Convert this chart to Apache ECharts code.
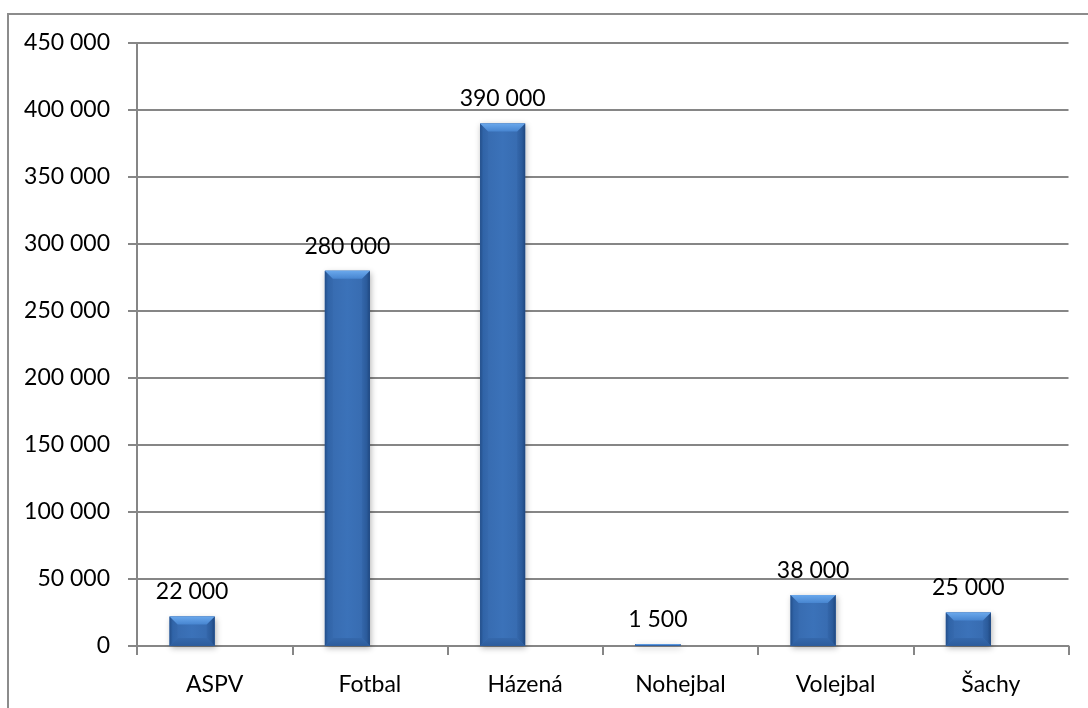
<!DOCTYPE html>
<html>
<head>
<meta charset="utf-8">
<script src="https://cdn.jsdelivr.net/npm/echarts@6/dist/echarts.min.js"></script>
<style>
html,body{margin:0;padding:0;background:#fff;overflow:hidden;}
#frame{position:absolute;left:7px;top:13px;width:1200px;height:800px;border-left:2px solid #8c8c8c;border-top:2px solid #8c8c8c;box-sizing:border-box;}
#chart{position:absolute;left:0;top:0;width:1088px;height:708px;}
</style>
</head>
<body>
<div id="frame"></div>
<div id="chart"></div>
<script>
const categories = ['ASPV', 'Fotbal', 'Házená', 'Nohejbal', 'Volejbal', 'Šachy'];
const values = [22000, 280000, 390000, 1500, 38000, 25000];
const yTicks = { min: 0, max: 450000, interval: 50000 };

function fmt(v) {
  return String(v).replace(/\B(?=(\d{3})+(?!\d))/g, ' ');
}

const BAR_W = 45;
const FONT = 'Lato';
const FS = 23;

const chart = echarts.init(document.getElementById('chart'));

function grad(x, y, x2, y2, stops) {
  return new echarts.graphic.LinearGradient(x, y, x2, y2, stops);
}

function bevel(params, api) {
  const cat = api.value(0);
  const v = api.value(1);
  const top = api.coord([cat, v]);
  const base = api.coord([cat, 0]);
  const x0 = top[0] - BAR_W, x1 = top[0];
  const yT = top[1], yB = base[1];
  const h = yB - yT;
  const d = Math.max(0, Math.min(8, h / 2));
  if (h < 1) return null;
  return {
    type: 'group',
    children: [
      { type: 'rect', shape: { x: x0, y: yT, width: BAR_W, height: h },
        style: { fill: grad(0, 0, 1, 0, [
          { offset: 0, color: '#3669ad' }, { offset: 0.5, color: '#3b72b9' }, { offset: 1, color: '#3669ad' }]) } },
      { type: 'polygon', shape: { points: [[x0, yT], [x0 + d, yT + d], [x0 + d, yB - d], [x0, yB]] },
        style: { fill: grad(0, 0, 1, 0, [
          { offset: 0, color: '#244f8a' }, { offset: 0.4, color: '#3064a8' }, { offset: 1, color: '#3669ad' }]) } },
      { type: 'polygon', shape: { points: [[x1, yT], [x1 - d, yT + d], [x1 - d, yB - d], [x1, yB]] },
        style: { fill: grad(0, 0, 1, 0, [
          { offset: 0, color: '#3467ab' }, { offset: 0.6, color: '#2b5b9b' }, { offset: 1, color: '#1f477f' }]) } },
      { type: 'polygon', shape: { points: [[x0, yB], [x0 + d, yB - d], [x1 - d, yB - d], [x1, yB]] },
        style: { fill: grad(0, 0, 0, 1, [
          { offset: 0, color: '#3568ac' }, { offset: 1, color: '#2d5c9c' }]) } },
      { type: 'polygon', shape: { points: [[x0, yT], [x1, yT], [x1 - d, yT + d], [x0 + d, yT + d]] },
        style: { fill: grad(0, 0, 0, 1, [
          { offset: 0, color: '#6aa8ec' }, { offset: 1, color: '#4785d0' }]) } }
    ]
  };
}

chart.setOption({
  animation: false,
  textStyle: { fontFamily: FONT, color: '#000' },
  grid: { left: 137, right: 19.5, top: 43, bottom: 62, containLabel: false },
  xAxis: {
    type: 'category',
    data: categories,
    axisLine: { lineStyle: { color: '#868686', width: 2 } },
    axisTick: { show: true, length: 9, lineStyle: { color: '#868686', width: 2 } },
    axisLabel: { color: '#000', fontSize: FS, margin: 27, fontFamily: FONT }
  },
  yAxis: {
    type: 'value',
    min: yTicks.min, max: yTicks.max, interval: yTicks.interval,
    axisLine: { show: true, lineStyle: { color: '#868686', width: 2 } },
    axisTick: { show: true, length: 9, lineStyle: { color: '#868686', width: 2 } },
    splitLine: { lineStyle: { color: '#868686', width: 2 } },
    axisLabel: { color: '#000', fontSize: FS, margin: 27, fontFamily: FONT, formatter: fmt }
  },
  series: [
    {
      type: 'bar',
      data: values,
      barWidth: BAR_W,
      barGap: '0%',
      itemStyle: {
        color: '#3a73ba',
        shadowColor: 'rgba(0,0,0,0.3)',
        shadowBlur: 6,
        shadowOffsetX: 1,
        shadowOffsetY: 2
      },
      label: {
        show: true, position: 'top', distance: 13,
        color: '#000', fontSize: FS, fontFamily: FONT,
        formatter: p => fmt(p.value)
      }
    },
    {
      type: 'bar',
      data: values.map(() => null),
      barWidth: BAR_W
    },
    {
      type: 'custom',
      renderItem: bevel,
      data: values.map((v, i) => [i, v]),
      encode: { x: 0, y: 1 },
      z: 5,
      silent: true
    }
  ]
});
</script>
</body>
</html>
